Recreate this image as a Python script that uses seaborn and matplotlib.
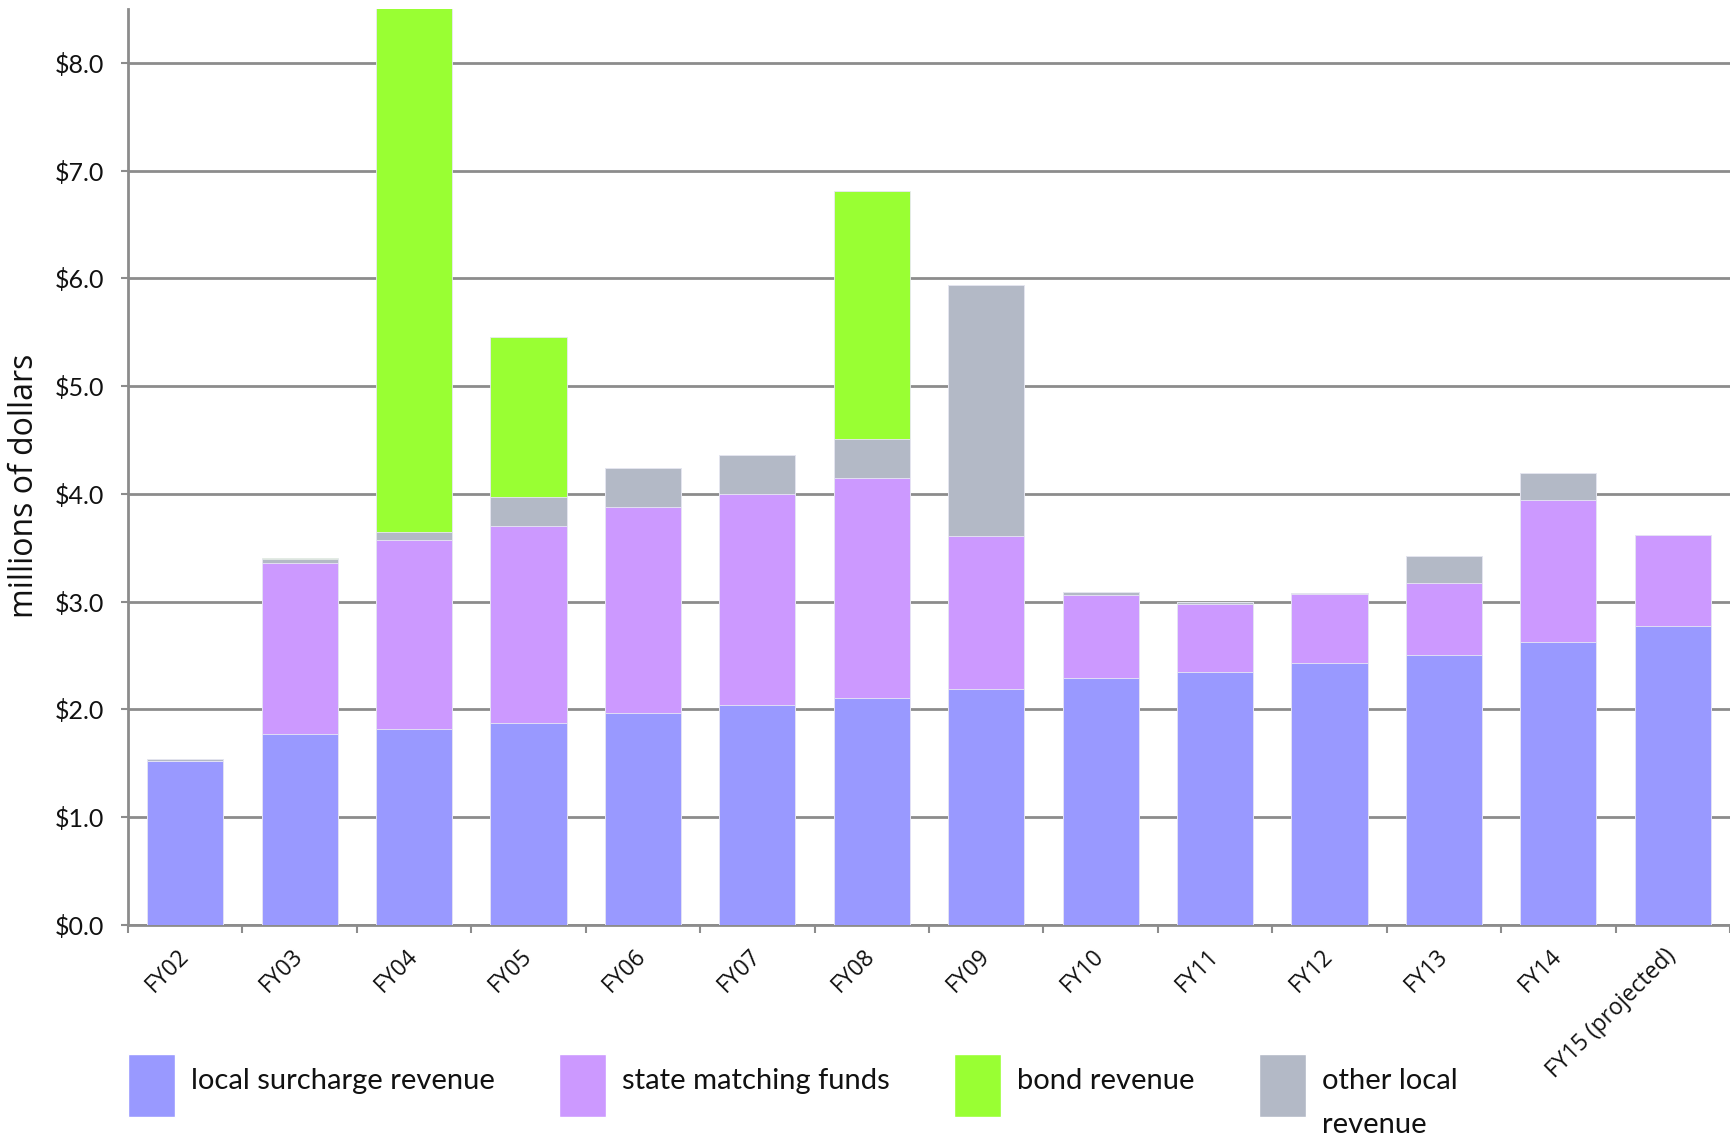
import numpy as np
import pandas as pd
import matplotlib
matplotlib.use("Agg")
import matplotlib.pyplot as plt
from matplotlib.patches import Patch
from matplotlib.ticker import FixedLocator
import seaborn as sns

categories = ["FY02", "FY03", "FY04", "FY05", "FY06", "FY07", "FY08",
              "FY09", "FY10", "FY11", "FY12", "FY13", "FY14", "FY15 (projected)"]
local_surcharge = [1.52, 1.77, 1.82, 1.87, 1.97, 2.04, 2.11, 2.19, 2.29, 2.35, 2.43, 2.51, 2.63, 2.77]
state_matching = [0.00, 1.59, 1.75, 1.83, 1.91, 1.96, 2.04, 1.42, 0.77, 0.63, 0.64, 0.66, 1.31, 0.85]
other_local = [0.02, 0.04, 0.08, 0.27, 0.36, 0.36, 0.36, 2.33, 0.03, 0.02, 0.01, 0.25, 0.25, 0.00]
bond_revenue = [0.00, 0.01, 5.25, 1.49, 0.00, 0.00, 2.30, 0.00, 0.00, 0.00, 0.00, 0.00, 0.00, 0.00]
y_ticks = [0, 1, 2, 3, 4, 5, 6, 7, 8]
y_tick_labels = ["$0.0", "$1.0", "$2.0", "$3.0", "$4.0", "$5.0", "$6.0", "$7.0", "$8.0"]
series_names = ["local surcharge revenue", "state matching funds", "bond revenue", "other local"]

COL_LOCAL = "#9999FF"
COL_STATE = "#CC99FF"
COL_BOND = "#99FF33"
COL_OTHER = "#B3B9C6"
GRID = "#8C8C8C"
TXT = "#111111"

df = pd.DataFrame({
    "cat": categories,
    "local": local_surcharge,
    "state": state_matching,
    "other": other_local,
    "bond": bond_revenue,
})
df["c1"] = df["local"]
df["c2"] = df["c1"] + df["state"]
df["c3"] = df["c2"] + df["other"]
df["c4"] = df["c3"] + df["bond"]

sns.set_theme(style="white")
plt.rcParams["font.family"] = ["Lato", "DejaVu Sans"]

W, H = 1730, 1141
fig = plt.figure(figsize=(W / 100, H / 100), dpi=100)
ax = fig.add_axes([128 / W, 1 - 925 / H, (W - 128) / W, (925 - 9) / H])

for col, color in [("c4", COL_BOND), ("c3", COL_OTHER), ("c2", COL_STATE), ("c1", COL_LOCAL)]:
    sns.barplot(data=df, x="cat", y=col, color=color, saturation=1, width=0.665,
                edgecolor="#E8E8F4", linewidth=0.6, ax=ax, zorder=3)

ax.set_xlim(-0.5, len(categories) - 0.5)
ax.set_ylim(0, 8.5)
ax.set_yticks(y_ticks)
ax.set_yticklabels(y_tick_labels, fontsize=18, fontfamily="Lato", color=TXT)
ax.yaxis.grid(True, color=GRID, linewidth=2, zorder=0)
ax.xaxis.grid(False)
ax.set_axisbelow(True)

ax.set_xticks(range(len(categories)))
ax.set_xticklabels(categories, rotation=45, ha="right", va="center", rotation_mode="anchor",
                   fontsize=16.5, fontfamily="Open Sans", color=TXT)
ax.xaxis.set_minor_locator(FixedLocator(np.arange(-0.5, len(categories), 1.0)))
ax.tick_params(axis="x", which="major", length=0, pad=20)
ax.tick_params(axis="x", which="minor", length=6, width=1.5, color=GRID, direction="out", bottom=True)
ax.tick_params(axis="y", which="major", length=5, width=1.5, color=GRID, direction="out", left=True, pad=12)

for s in ["top", "right"]:
    ax.spines[s].set_visible(False)
for s in ["left", "bottom"]:
    ax.spines[s].set_color(GRID)
    ax.spines[s].set_linewidth(2)

ax.set_xlabel("")
ax.set_ylabel("millions of dollars", fontsize=23, fontfamily="Open Sans", color=TXT)
ax.yaxis.set_label_coords(-0.054, 0.48)

handles = [Patch(facecolor=COL_LOCAL), Patch(facecolor=COL_STATE),
           Patch(facecolor=COL_BOND), Patch(facecolor=COL_OTHER)]
leg = fig.legend(handles, series_names, loc="upper left",
                 bbox_to_anchor=(128 / W, 1 - 1054 / H), ncol=4, frameon=False,
                 handlelength=1.61, handleheight=2.95, handletextpad=0.55,
                 columnspacing=2.2, borderpad=0, borderaxespad=0,
                 prop={"family": "Lato", "size": 21})
for t in leg.get_texts():
    t.set_color(TXT)
    t.set_y(5.5)

fig.canvas.draw()
bb = leg.get_texts()[3].get_window_extent()
fig.text(bb.x0 / W, (bb.y0 - 44) / H, "revenue", ha="left", va="bottom",
         fontsize=21, fontfamily="Lato", color=TXT)

fig.savefig("out.png", dpi=100)
